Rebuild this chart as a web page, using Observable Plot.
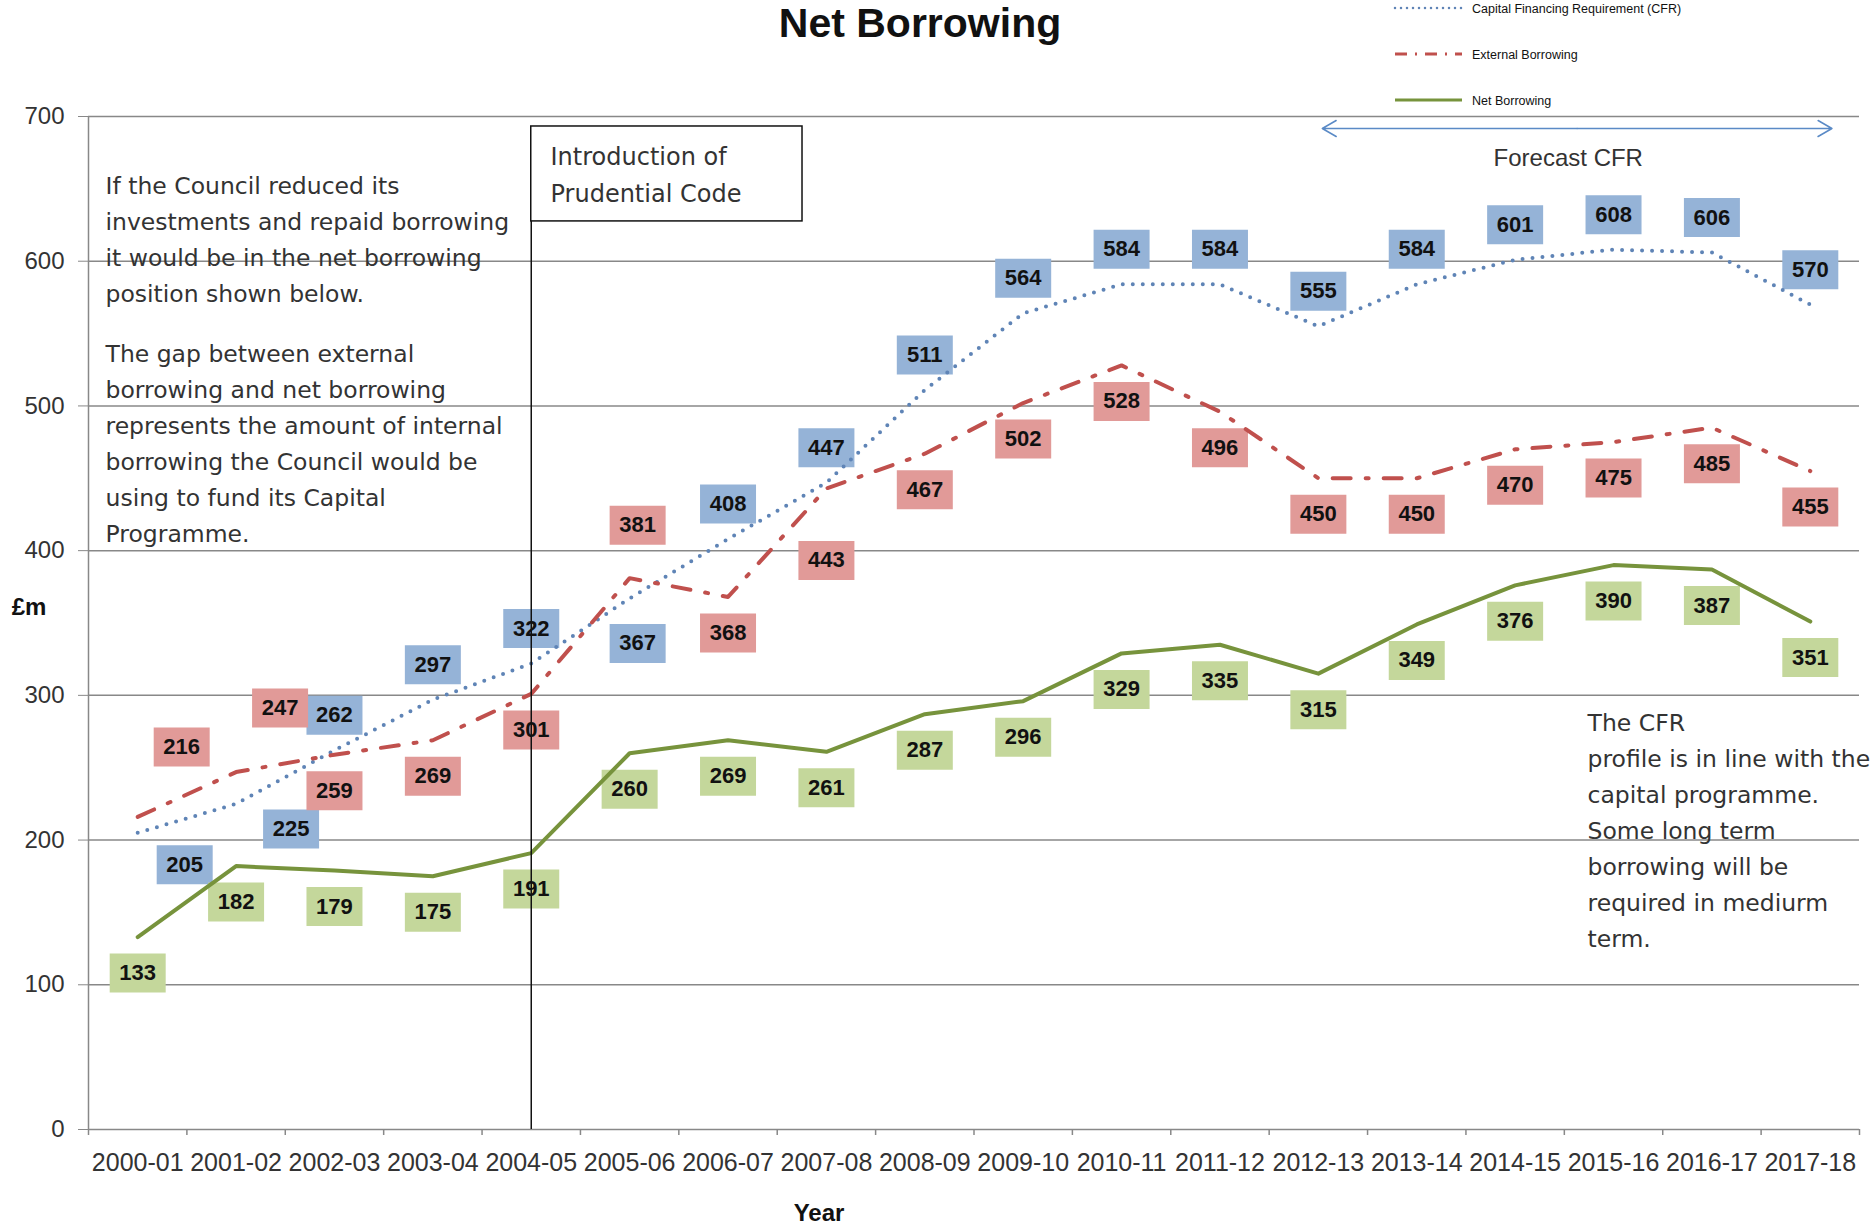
<!DOCTYPE html>
<html><head><meta charset="utf-8">
<script src="https://cdn.jsdelivr.net/npm/d3@7"></script>
<script src="https://cdn.jsdelivr.net/npm/@observablehq/plot@0.6"></script>
<style>
body{margin:0;background:#fff}
#wrap{position:relative;width:1873px;height:1228px;overflow:hidden;background:#fff}
#overlay{position:absolute;left:0;top:0;pointer-events:none}
#chart svg{display:block}
</style>
</head><body>
<div id="wrap"><div id="chart"></div><svg id="overlay" width="1873" height="1228"></svg></div>
<script>
// ---- data ----
const years = ["2000-01","2001-02","2002-03","2003-04","2004-05","2005-06","2006-07","2007-08","2008-09","2009-10","2010-11","2011-12","2012-13","2013-14","2014-15","2015-16","2016-17","2017-18"];
const cfr      = [205,225,262,297,322,367,408,447,511,564,584,584,555,584,601,608,606,570];
const external = [216,247,259,269,301,381,368,443,467,502,528,496,450,450,470,475,485,455];
const net      = [133,182,179,175,191,260,269,261,287,296,329,335,315,349,376,390,387,351];
const yTicks = [0,100,200,300,400,500,600,700];
const seriesNames = ["Capital Financing Requirement (CFR)","External Borrowing","Net Borrowing"];
const titleText = "Net Borrowing";
const yTitle = "£m";
const xTitle = "Year";
const noteLeft1 = "If the Council reduced its\ninvestments and repaid borrowing\nit would be in the net borrowing\nposition shown below.";
const noteLeft2 = "The gap between external\nborrowing and net borrowing\nrepresents the amount of internal\nborrowing the Council would be\nusing to fund its Capital\nProgramme.";
const noteRight = "The CFR\nprofile is in line with the\ncapital programme.\nSome long term\nborrowing will be\nrequired in mediurm\nterm.";
const noteCode = "Introduction of\nPrudential Code";
const noteForecast = "Forecast CFR";

// ---- styles ----
const C = {
  cfrLine:"#5F84B6", cfrBox:"#95B3D7",
  extLine:"#C0504D", extBox:"#E19A98",
  netLine:"#77933C", netBox:"#C4D79B",
  grid:"#888888", text:"#333333"
};
const FONT = "Liberation Sans, Arial, sans-serif";
const NOTE_FONT = "DejaVu Sans, Verdana, sans-serif";

const rows = s => s.map((v,i)=>({i, v}));
const cfrData = rows(cfr), extData = rows(external), netData = rows(net);

// label box symbol (fixed size rectangle)
const boxSymbol = { draw(ctx){ ctx.moveTo(-28,-19.5); ctx.lineTo(28,-19.5); ctx.lineTo(28,19.5); ctx.lineTo(-28,19.5); ctx.closePath(); } };

// label placement (pixel offsets from the point)
const ABOVE = {dx:0, dy:-35}, BELOW = {dx:0, dy:36};
const placeCfr = {0:{dx:47,dy:32}, 1:{dx:55,dy:25}, 5:{dx:8,dy:45}};
const placeExt = {0:{dx:44,dy:-70}, 1:{dx:44,dy:-64}, 5:{dx:8,dy:-53}, 7:{dx:0,dy:72}};
const placeNet = {};

function labelMarks(data, fill, def, over){
  const g = d3.groups(data.map(d=>({...d, off: over[d.i] || def})), d=>d.off.dx+","+d.off.dy);
  const boxes = [], texts = [];
  for (const [,arr] of g){
    const {dx,dy} = arr[0].off;
    boxes.push(Plot.dot(arr, {x:"i", y:"v", dx, dy, symbol: boxSymbol, fill, stroke:"none"}));
    texts.push(Plot.text(arr, {x:"i", y:"v", dx, dy, text: d=>String(d.v), fontSize:22, fontWeight:"bold", fill:"#111", fontFamily: FONT}));
  }
  return {boxes, texts};
}
const Lc = labelMarks(cfrData, C.cfrBox, ABOVE, placeCfr);
const Le = labelMarks(extData, C.extBox, BELOW, placeExt);
const Ln = labelMarks(netData, C.netBox, BELOW, placeNet);

const n = years.length;
const noteOpts = {textAnchor: "start", lineAnchor: "middle", lineHeight: 36/23.5, fontSize: 23.5, fill: C.text, fontFamily: NOTE_FONT};
const chart = Plot.plot({
  width: 1873, height: 1228,
  marginLeft: 88, marginRight: 14, marginTop: 116, marginBottom: 99,
  style: {fontFamily: FONT, background: "white", overflow: "visible"},
  x: {type:"linear", domain:[-0.5, n-0.5]},
  y: {domain:[0,700]},
  marks: [
    Plot.gridY({ticks: yTicks, stroke: C.grid, strokeOpacity: 1, strokeWidth: 1.5}),
    Plot.ruleX([-0.5], {y1:0, y2:700, stroke: C.grid, strokeWidth: 1.5}),
    Plot.axisY({ticks: yTicks, tickSize: 10, tickPadding: 14, fontSize: 24, stroke: C.grid, fill: C.text, label: null}),
    Plot.axisX({ticks: d3.range(n), tickFormat: i=>years[i], tickSize: 0, tickPadding: 24, fontSize: 25, fill: C.text, label: null}),
    Plot.axisX({ticks: d3.range(-0.5, n, 1), tickFormat: ()=>"", tickSize: 6, stroke: C.grid, strokeWidth: 1.5, label: null}),
    ...Lc.boxes, ...Le.boxes, ...Ln.boxes,
    Plot.line(cfrData, {x:"i", y:"v", stroke: C.cfrLine, strokeWidth: 4, strokeDasharray: "0,10", strokeLinecap: "round"}),
    Plot.line(extData, {x:"i", y:"v", stroke: C.extLine, strokeWidth: 4, strokeDasharray: "18,15,3,15"}),
    Plot.line(netData, {x:"i", y:"v", stroke: C.netLine, strokeWidth: 4}),
    ...Lc.texts, ...Le.texts, ...Ln.texts,
    // annotations
    Plot.ruleX([4], {y1: 0, y2: 627.5, stroke: "#111", strokeWidth: 1.5}),
    Plot.rect([0], {x1: 4, x2: 6.757, y1: 627.5, y2: 693.1, fill: "white", stroke: "#111", strokeWidth: 1.5}),
    Plot.text([noteCode], {...noteOpts, x: 4.196, y: 661.7, fontSize: 24, lineHeight: 1.54}),
    Plot.text([noteLeft1], {...noteOpts, x: -0.327, y: 617.1}),
    Plot.text([noteLeft2], {...noteOpts, x: -0.327, y: 476.1}),
    Plot.text([noteRight], {...noteOpts, x: 14.736, y: 209.0}),
    Plot.text([noteForecast], {x: 14.54, y: 671, fontSize: 24, fill: C.text}),
    Plot.arrow([0], {x1: 14.63, x2: 12.04, y1: 691.7, y2: 691.7, stroke: "#5A8AC6", strokeWidth: 1.5, headLength: 16, headAngle: 60}),
    Plot.arrow([0], {x1: 14.63, x2: 17.22, y1: 691.7, y2: 691.7, stroke: "#5A8AC6", strokeWidth: 1.5, headLength: 16, headAngle: 60})
  ]
});
document.getElementById("chart").appendChild(chart);

// ---- overlay: title, axis titles, legend ----
const ov = d3.select("#overlay").style("font-family", FONT);
ov.append("text").attr("x", 920).attr("y", 37).attr("text-anchor","middle").attr("font-size", 41).attr("font-weight","bold").attr("fill","#111").text(titleText);
ov.append("text").attr("x", 29).attr("y", 615).attr("text-anchor","middle").attr("font-size", 24).attr("font-weight","bold").attr("fill","#111").text(yTitle);
ov.append("text").attr("x", 819).attr("y", 1221).attr("text-anchor","middle").attr("font-size", 24).attr("font-weight","bold").attr("fill","#111").text(xTitle);
const legendStyles = [
  {stroke: C.cfrLine, dash: "0,6", w: 2.5, cap: "round"},
  {stroke: C.extLine, dash: "12,8,2,8", w: 3, cap: "butt"},
  {stroke: C.netLine, dash: null, w: 3, cap: "butt"}
];
const legendY = [8, 54, 100];
seriesNames.forEach((name, k) => {
  const s = legendStyles[k], y = legendY[k];
  const ln = ov.append("line").attr("x1", 1395).attr("x2", 1462).attr("y1", y).attr("y2", y)
    .attr("stroke", s.stroke).attr("stroke-width", s.w).attr("stroke-linecap", s.cap);
  if (s.dash) ln.attr("stroke-dasharray", s.dash);
  ov.append("text").attr("x", 1472).attr("y", y + 4.5).attr("font-size", 12.5).attr("fill","#111").text(name);
});
</script>
</body></html>
